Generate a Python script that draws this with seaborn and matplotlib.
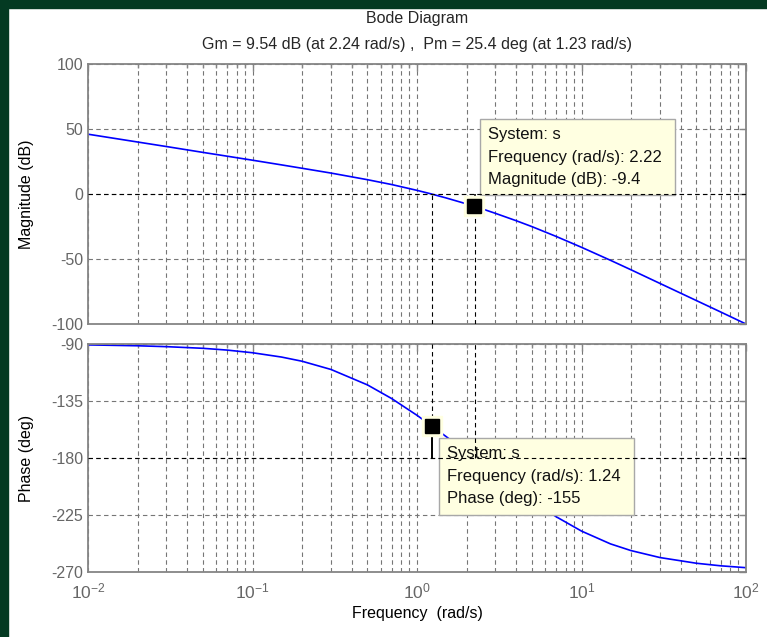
import numpy as np
import seaborn as sns
import matplotlib.pyplot as plt
from matplotlib.patches import Rectangle
from matplotlib.ticker import LogLocator, FixedLocator

# Frequency response (rad/s, dB, deg)
freq = [0.01, 0.02, 0.03, 0.05, 0.07, 0.1, 0.15, 0.2, 0.3, 0.5, 0.7, 1.0, 1.2,
        1.5, 2.0, 2.5, 3.0, 4.0, 5.0, 7.0, 10.0, 15.0, 20.0, 30.0, 50.0, 70.0, 100.0]
mag_db = [46.0, 40.0, 36.5, 32.0, 29.1, 26.0, 22.4, 19.8, 16.1, 11.0, 7.3, 2.8, 0.3,
          -3.0, -7.6, -11.5, -14.9, -20.5, -25.1, -32.6, -41.0, -51.0, -58.3, -68.8,
          -82.0, -90.7, -100.0]
phase_deg = [-90.7, -91.4, -92.1, -93.4, -94.8, -96.9, -100.3, -103.6, -110.1, -122.3,
             -133.0, -146.3, -153.7, -163.0, -175.2, -184.8, -192.5, -204.6, -213.7,
             -226.3, -237.7, -247.8, -253.1, -258.6, -263.1, -265.1, -266.6]

# Stability margins
gm_db, gm_freq = 9.54, 2.24
pm_deg, pm_freq = 25.4, 1.23

# Data tips
tip_mag_freq, tip_mag_db = 2.22, -9.4
tip_ph_freq, tip_ph_deg = 1.24, -155

mag_ticks = [-100, -50, 0, 50, 100]
mag_labels = ["-100", "-50", "0", "50", "100"]
ph_ticks = [-270, -225, -180, -135, -90]
ph_labels = ["-270", "-225", "-180", "-135", "-90"]
x_ticks = [1e-2, 1e-1, 1e0, 1e1, 1e2]
x_labels = [r"$10^{-2}$", r"$10^{-1}$", r"$10^{0}$", r"$10^{1}$", r"$10^{2}$"]

sns.set_theme(style="white")
plt.rcParams["font.family"] = ["Liberation Sans", "DejaVu Sans"]
plt.rcParams["axes.unicode_minus"] = False
plt.rcParams["mathtext.fontset"] = "custom"
plt.rcParams["mathtext.rm"] = "Liberation Sans"
plt.rcParams["mathtext.it"] = "Liberation Sans:italic"

W, H = 767, 637
axis_gray = "#858585"
grid_gray = "#767676"
tick_gray = "#666666"
dash = (0, (4, 3))
tip_face = "#ffffe1"


def px_box(l, t, r, b):
    return [l / W, 1 - b / H, (r - l) / W, (b - t) / H]


def style_axes(ax, ticks, labels, ylim):
    ax.set_xscale("log")
    ax.set_xlim(1e-2, 1e2)
    ax.set_ylim(*ylim)
    ax.yaxis.set_major_locator(FixedLocator(ticks))
    ax.set_yticklabels(labels)
    ax.xaxis.set_major_locator(FixedLocator(x_ticks))
    ax.xaxis.set_minor_locator(LogLocator(base=10, subs=np.arange(2, 10), numticks=100))
    ax.set_axisbelow(True)
    ax.grid(True, which="major", axis="both", color=grid_gray, linestyle=dash, lw=0.8)
    ax.grid(True, which="minor", axis="x", color=grid_gray, linestyle=dash, lw=0.8)
    for s in ax.spines.values():
        s.set_color(axis_gray)
        s.set_linewidth(1.3)
    ax.tick_params(which="both", direction="in", top=True, right=True,
                   color=axis_gray, labelcolor=tick_gray, labelsize=11.5)
    ax.tick_params(which="major", length=5, width=1)
    ax.tick_params(which="minor", length=3, width=1)


fig = plt.figure(figsize=(W / 100, H / 100), dpi=100)
fig.patches.append(Rectangle((0, 0), 8 / W, 1, transform=fig.transFigure,
                             color="#043a22", zorder=-1))
fig.patches.append(Rectangle((0, 1 - 8 / H), 1, 8 / H, transform=fig.transFigure,
                             color="#043a22", zorder=-1))

ax_mag = fig.add_axes(px_box(88, 64, 746, 324))
ax_ph = fig.add_axes(px_box(88, 344, 746, 572))

# magnitude
sns.lineplot(x=freq, y=mag_db, ax=ax_mag, color="blue", lw=1.2, zorder=2)
style_axes(ax_mag, mag_ticks, mag_labels, (-100, 100))
ax_mag.tick_params(labelbottom=False)
ax_mag.axhline(0, color="black", linestyle=dash, lw=0.8, zorder=4)
ax_mag.vlines(pm_freq, -100, 0, color="black", linestyle=dash, lw=0.8, zorder=4)
ax_mag.vlines(gm_freq, -100, -gm_db, color="black", linestyle=dash, lw=0.8, zorder=4)
ax_mag.vlines(gm_freq, -gm_db, 0, color="black", lw=1.2, zorder=4)

# phase
sns.lineplot(x=freq, y=phase_deg, ax=ax_ph, color="blue", lw=1.2, zorder=2)
style_axes(ax_ph, ph_ticks, ph_labels, (-270, -90))
ax_ph.set_xticklabels(x_labels)
ax_ph.tick_params(axis="x", which="major", pad=7, labelsize=12.5)
ax_ph.axhline(-180, color="black", linestyle=dash, lw=0.8, zorder=4)
ax_ph.vlines(pm_freq, -180 + pm_deg, -90, color="black", linestyle=dash, lw=0.8, zorder=4)
ax_ph.vlines(gm_freq, -180, -90, color="black", linestyle=dash, lw=0.8, zorder=4)
ax_ph.vlines(pm_freq, -180, -180 + pm_deg, color="black", lw=1.4, zorder=4)

# data tips
for ax, fx, fy, txt, off in [
    (ax_mag, tip_mag_freq, tip_mag_db,
     f"System: s\nFrequency (rad/s): {tip_mag_freq:.2f} \nMagnitude (dB): {tip_mag_db:.1f}",
     (14, 79)),
    (ax_ph, tip_ph_freq, tip_ph_deg,
     f"System: s\nFrequency (rad/s): {tip_ph_freq:.2f} \nPhase (deg): {tip_ph_deg:.0f}",
     (15, -20)),
]:
    ax.plot([fx], [fy], "s", color=tip_face, ms=14, zorder=5)
    ax.plot([fx], [fy], "s", color="black", ms=9.5, zorder=6)
    ax.annotate(txt, xy=(fx, fy), xytext=off, textcoords="offset pixels",
                ha="left", va="top", fontsize=12, linespacing=1.62, color="#111111",
                bbox=dict(boxstyle="square,pad=0.5", fc=tip_face, ec="#a8a8a8", lw=1),
                zorder=3)

# labels
ax_mag.set_ylabel("Magnitude (dB)", fontsize=11.5, color="black")
ax_mag.yaxis.set_label_coords(-0.082, 0.5)
ax_ph.set_ylabel("Phase (deg)", fontsize=11.5, color="black")
ax_ph.yaxis.set_label_coords(-0.082, 0.5)
ax_ph.set_xlabel("Frequency  (rad/s)", fontsize=11.5, color="black")
ax_ph.xaxis.set_label_coords(0.5, -0.149)

fig.text(417 / W, 1 - 18 / H, "Bode Diagram", ha="center", va="center", fontsize=11.5)
fig.text(417 / W, 1 - 44 / H,
         f"Gm = {gm_db:.2f} dB (at {gm_freq:.2f} rad/s) ,  "
         f"Pm = {pm_deg:.1f} deg (at {pm_freq:.2f} rad/s)",
         ha="center", va="center", fontsize=11.5)

fig.savefig("out.png", dpi=100, facecolor="white")
